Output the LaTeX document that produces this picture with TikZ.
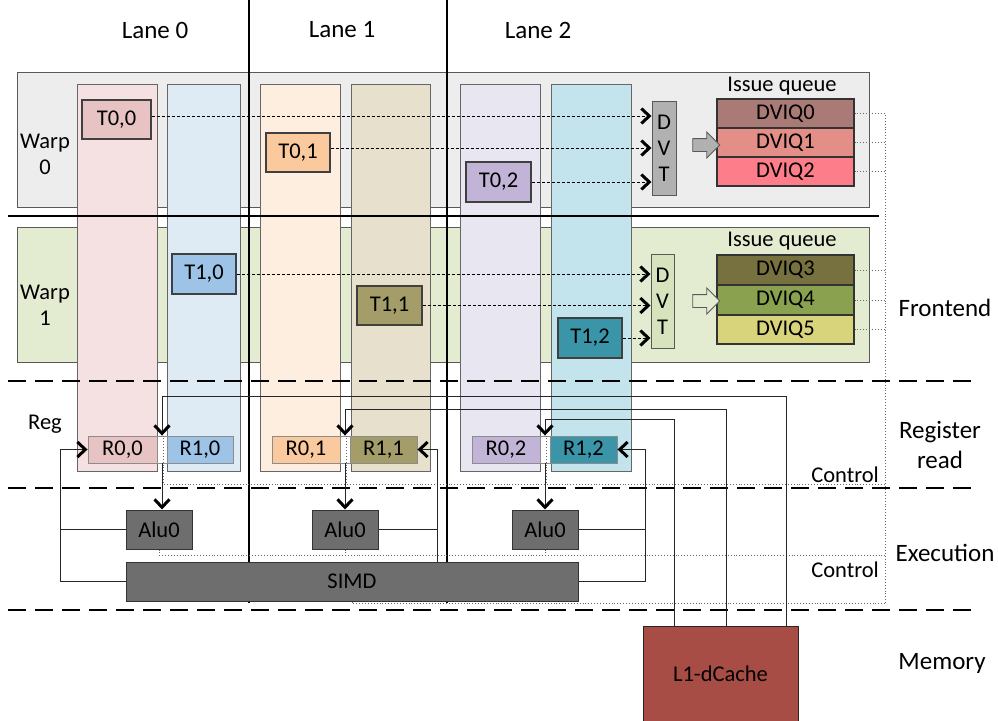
\documentclass[tikz,border=0pt]{standalone}
\usepackage{fontspec}
\setmainfont{Carlito}
\usetikzlibrary{arrows.meta,shapes.arrows,calc}
\definecolor{wgray}{HTML}{EDEDED}
\definecolor{wgreen}{HTML}{E3EBD1}
\definecolor{c0a}{HTML}{F5E1E1}
\definecolor{c0b}{HTML}{DEEAF4}
\definecolor{c1a}{HTML}{FDEEE0}
\definecolor{c1b}{HTML}{E6E0CD}
\definecolor{c2a}{HTML}{E8E6F1}
\definecolor{c2b}{HTML}{C3E4EC}
\definecolor{t00}{HTML}{E8C3C3}
\definecolor{t01}{HTML}{FAC99E}
\definecolor{t02}{HTML}{C2B4D6}
\definecolor{t10}{HTML}{9DC3E6}
\definecolor{t11}{HTML}{A59D69}
\definecolor{t12}{HTML}{3A95A9}
\definecolor{q0}{HTML}{AA7B76}
\definecolor{q1}{HTML}{E38E87}
\definecolor{q2}{HTML}{FE7D8A}
\definecolor{q3}{HTML}{77703F}
\definecolor{q4}{HTML}{8AA24F}
\definecolor{q5}{HTML}{D8D47B}
\definecolor{dvtg}{HTML}{B1B1B1}
\definecolor{dvtgr}{HTML}{D6E3BC}
\definecolor{unitg}{HTML}{6E6E6E}
\definecolor{l1c}{HTML}{A84C46}
\newcommand\bx[7]{\node[#6, minimum width={(#4)-(#2)}, minimum height={(#5)-(#3)}] (#1) at ({((#2)+(#4))/2},{((#3)+(#5))/2}) {#7};}
\tikzset{
 biglbl/.style={font=\fontsize{25}{30}\selectfont, inner sep=0, align=center},
 small/.style={font=\fontsize{22.5}{26}\selectfont},
 smlbl/.style={small, inner sep=0, align=center},
 warpbox/.style={draw=black!65, line width=1pt, inner sep=0},
 colbox/.style={draw=black!60, line width=0.9pt, inner sep=0},
 tbox/.style={draw=black!75, line width=1.1pt, small, inner sep=0},
 rbox/.style={draw=black!45, line width=0.9pt, small, inner sep=0},
 qbox/.style={draw=black!80, line width=1.1pt, small, inner sep=0},
 dvtbox/.style={draw=black!65, line width=1pt, small, inner sep=0, align=center},
 unitbox/.style={draw=black!80, line width=1pt, fill=unitg, small, inner sep=0},
 secline/.style={line width=2.6pt, dash pattern=on 18pt off 9pt},
 sepline/.style={line width=2.6pt},
 chev/.style={-{Straight Barb[length=8pt,width=15pt,line width=3pt,color=black]}},
 dasharr/.style={line width=0.9pt, dash pattern=on 3pt off 2pt, chev},
 conn/.style={line width=0.9pt, draw=black!85},
 connarr/.style={conn, chev},
 ctrl/.style={line width=0.9pt, draw=black!60, dotted},
 barrow/.style={single arrow, draw=black!65, line width=0.9pt, minimum height=27pt, minimum width=25pt, inner sep=6pt, single arrow head extend=6.5pt},
}
\begin{document}
\begin{tikzpicture}[x=1pt,y=-1pt]
\useasboundingbox (0,0) rectangle (998,720);
% lane labels
\node[biglbl] (lane0) at (155,30) {Lane 0};
\node[biglbl] (lane1) at (342,30) {Lane 1};
\node[biglbl] (lane2) at (538,30) {Lane 2};
% warp boxes
\bx{W0}{17}{72}{869}{207}{warpbox,fill=wgray}{}
\bx{W1}{17}{227}{869}{362}{warpbox,fill=wgreen}{}
% lane columns
\bx{c0a}{77}{84}{157}{471}{colbox,fill=c0a}{}
\bx{c0b}{167}{84}{240}{471}{colbox,fill=c0b}{}
\bx{c1a}{260}{84}{340}{471}{colbox,fill=c1a}{}
\bx{c1b}{351}{84}{430}{471}{colbox,fill=c1b}{}
\bx{c2a}{460}{84}{540}{471}{colbox,fill=c2a}{}
\bx{c2b}{551}{84}{631}{471}{colbox,fill=c2b}{}
% separators
\draw[sepline] (8,216) -- (879,216);
\draw[sepline] (249,0) -- (249,603);
\draw[sepline] (447,0) -- (447,603);
\draw[secline] (8,381) -- (978,381);
\draw[secline] (8,488) -- (978,488);
\draw[secline] (8,610) -- (978,610);
% side labels
\node[smlbl] (w0l) at (45,154) {Warp\\0};
\node[smlbl] (w1l) at (45,305) {Warp\\1};
\node[smlbl] (regl) at (45,424) {Reg};
\node[biglbl] (fe) at (945,308) {Frontend};
\node[biglbl] (rr) at (940,445) {Register\\read};
\node[biglbl] (ex) at (945,553) {Execution};
\node[biglbl] (mem) at (942,663) {Memory};
% thread boxes
\bx{T00}{82}{100}{151}{139}{tbox,fill=t00}{T0,0}
\bx{T01}{266}{133}{330}{172}{tbox,fill=t01}{T0,1}
\bx{T02}{466}{162}{531}{202}{tbox,fill=t02}{T0,2}
\bx{T10}{172}{254}{236}{294}{tbox,fill=t10}{T1,0}
\bx{T11}{357}{286}{422}{325}{tbox,fill=t11}{T1,1}
\bx{T12}{558}{318}{622}{358}{tbox,fill=t12}{T1,2}
% DVT
\bx{DVT0}{652}{101}{676}{195}{dvtbox,fill=dvtg}{D\\V\\T}
\bx{DVT1}{651}{254}{674}{348}{dvtbox,fill=dvtgr}{D\\V\\T}
% issue queues
\node[smlbl] (iq0) at (782,86) {Issue queue};
\node[smlbl] (iq1) at (782,241) {Issue queue};
\bx{Q0}{717}{99}{854}{128}{qbox,fill=q0}{DVIQ0}
\bx{Q1}{717}{128}{854}{157}{qbox,fill=q1}{DVIQ1}
\bx{Q2}{717}{157}{854}{186}{qbox,fill=q2}{DVIQ2}
\bx{Q3}{717}{255}{854}{285}{qbox,fill=q3}{DVIQ3}
\bx{Q4}{717}{285}{854}{315}{qbox,fill=q4}{DVIQ4}
\bx{Q5}{717}{315}{854}{344}{qbox,fill=q5}{DVIQ5}
\node[barrow, fill=dvtg] (BA0) at (703,145) {};
\node[barrow, fill=wgreen] (BA1) at (703,301) {};
% dashed thread arrows
\draw[dasharr] ([yshift=3.5pt]T00.east) -- ([yshift=3.5pt]T00.east -| DVT0.west);
\draw[dasharr] ([yshift=4.5pt]T01.east) -- ([yshift=4.5pt]T01.east -| DVT0.west);
\draw[dasharr] (T02.east) -- (T02.east -| DVT0.west);
\draw[dasharr] (T10.east) -- (T10.east -| DVT1.west);
\draw[dasharr] (T11.east) -- (T11.east -| DVT1.west);
\draw[dasharr] (T12.east) -- (T12.east -| DVT1.west);
% register boxes
\bx{R00}{88}{436}{157}{463}{rbox,fill=t00}{R0,0}
\bx{Rg0}{157}{436}{167}{463}{rbox,fill=white}{}
\bx{R10}{167}{436}{233}{463}{rbox,fill=t10}{R1,0}
\bx{R01}{272}{436}{340}{463}{rbox,fill=t01}{R0,1}
\bx{Rg1}{340}{436}{350}{463}{rbox,fill=white}{}
\bx{R11}{350}{436}{417}{463}{rbox,fill=t11}{R1,1}
\bx{R02}{472}{436}{540}{463}{rbox,fill=t02}{R0,2}
\bx{Rg2}{540}{436}{550}{463}{rbox,fill=white}{}
\bx{R12}{550}{436}{617}{463}{rbox,fill=t12}{R1,2}
% control labels
\node[smlbl, anchor=east] (ctl0) at (879,475) {Control};
\node[smlbl, anchor=east] (ctl1) at (879,570) {Control};
% coordinates
\coordinate (bus) at (885,0);
\coordinate (cyR) at (0,484);
\coordinate (cyE) at (0,555);
\coordinate (cyS) at (0,603);
\coordinate (busA) at (0,396);
\coordinate (busB) at (0,409);
\coordinate (busC) at (0,419);
\coordinate (rx0) at (60,0);
\coordinate (rx1) at (437,0);
\coordinate (rx2) at (645,0);
% execution units
\bx{A0}{126}{510}{192}{549}{unitbox}{Alu0}
\bx{A1}{312}{510}{378}{549}{unitbox}{Alu0}
\bx{A2}{512}{510}{578}{549}{unitbox}{Alu0}
\bx{SIMD}{126}{562}{578}{601}{unitbox}{SIMD}
\bx{L1}{643}{626}{798}{721}{unitbox,fill=l1c,draw=black!85}{L1-dCache}
\coordinate (L1a) at (674,626);
\coordinate (L1b) at (726,626);
\coordinate (L1c) at (786,626);
% control (dotted)
\draw[ctrl] (Q0.east) -- (Q0.east -| bus) -- (bus |- cyS);
\draw[ctrl] (Q1.east) -- (Q1.east -| bus);
\draw[ctrl] (Q2.east) -- (Q2.east -| bus);
\draw[ctrl] (Q3.east) -- (Q3.east -| bus);
\draw[ctrl] (Q4.east) -- (Q4.east -| bus);
\draw[ctrl] (Q5.east) -- (Q5.east -| bus);
\draw[ctrl] ([xshift=1.5pt]Rg0.north) -- ([xshift=1.5pt]Rg0.north |- cyR) -- (bus |- cyR);
\draw[ctrl] ([xshift=1.5pt]Rg1.north) -- ([xshift=1.5pt]Rg1.north |- cyR);
\draw[ctrl] ([xshift=1.5pt]Rg2.north) -- ([xshift=1.5pt]Rg2.north |- cyR);
\draw[ctrl] (A0.south) -- (A0.south |- cyE) -- (bus |- cyE);
\draw[ctrl] (A1.south) -- (A1.south |- cyE);
\draw[ctrl] (A2.south) -- (A2.south |- cyE);
\draw[ctrl] (SIMD.south) -- (SIMD.south |- cyS) -- (bus |- cyS);
% register feed from L1
\draw[connarr] (L1c) -- (L1c |- busA) -| (Rg0.north);
\draw[connarr] (L1b) -- (L1b |- busB) -| (Rg1.north);
\draw[connarr] (L1a) -- (L1a |- busC) -| (Rg2.north);
% register to ALU
\draw[connarr] (Rg0.south) -- (Rg0.south |- A0.north);
\draw[connarr] (Rg1.south) -- (Rg1.south |- A1.north);
\draw[connarr] (Rg2.south) -- (Rg2.south |- A2.north);
% write-back
\draw[connarr] (SIMD.west) -- (SIMD.west -| rx0) -- (R00.west -| rx0) -- (R00.west);
\draw[conn] (A0.west) -- (A0.west -| rx0);
\draw[connarr] (SIMD.north -| rx1) -- (R11.east -| rx1) -- (R11.east);
\draw[conn] (A1.east) -- (A1.east -| rx1);
\draw[connarr] (SIMD.east) -- (SIMD.east -| rx2) -- (R12.east -| rx2) -- (R12.east);
\draw[conn] (A2.east) -- (A2.east -| rx2);
\end{tikzpicture}
\end{document}
